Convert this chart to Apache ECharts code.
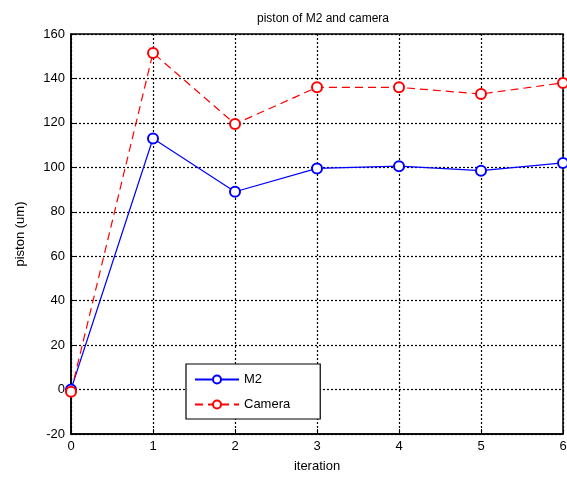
<!DOCTYPE html>
<html><head><meta charset="utf-8">
<script src="https://cdn.jsdelivr.net/npm/echarts@6/dist/echarts.min.js"></script>
<style>html,body{margin:0;padding:0;background:#fff}#c{width:567px;height:484px}</style>
</head><body><div id="c"></div>
<script>
const iterations = [0, 1, 2, 3, 4, 5, 6];
const m2 = [0, 113, 89, 99.5, 100.5, 98.5, 102];
const camera = [-1, 151.5, 119.5, 136, 136, 133, 138];
const yTicks = [-20, 160, 20];

const chart = echarts.init(document.getElementById('c'));
const font = 'Liberation Sans, Arial, sans-serif';
chart.setOption({
  animation: false,
  backgroundColor: '#fff',
  title: { text: 'piston of M2 and camera', left: 318, top: 8, textAlign: 'center',
    textStyle: { fontSize: 12, fontWeight: 'normal', color: '#000', fontFamily: font } },
  grid: { left: 71, right: 4, top: 34, bottom: 50, show: true, borderColor: '#000', borderWidth: 1.5,
    outerBoundsMode: 'none', containLabel: false },
  legend: {
    left: 186, top: 364, orient: 'vertical', itemWidth: 44, itemHeight: 10, itemGap: 12,
    backgroundColor: '#fff', borderColor: '#000', borderWidth: 1.2,
    padding: [9, 30, 8, 8],
    textStyle: { fontSize: 13, color: '#000', fontFamily: font },
    data: ['M2', 'Camera']
  },
  xAxis: {
    type: 'value', min: 0, max: 6, interval: 1,
    name: 'iteration', nameLocation: 'middle', nameGap: 26,
    nameTextStyle: { fontSize: 13, color: '#000', fontFamily: font },
    axisLine: { show: true, onZero: false, lineStyle: { color: '#000', width: 1.5 } },
    axisTick: { inside: true, length: 5, lineStyle: { color: '#000' } },
    axisLabel: { fontSize: 13, color: '#000', fontFamily: font, margin: 6 },
    splitLine: { show: true, lineStyle: { color: '#000', type: [2, 2], width: 1.2 } }
  },
  yAxis: {
    type: 'value', min: yTicks[0], max: yTicks[1], interval: yTicks[2],
    name: 'piston (um)', nameLocation: 'middle', nameGap: 44,
    nameTextStyle: { fontSize: 13, color: '#000', fontFamily: font },
    axisLine: { show: true, onZero: false, lineStyle: { color: '#000', width: 1.5 } },
    axisTick: { inside: true, length: 5, lineStyle: { color: '#000' } },
    axisLabel: { fontSize: 13, color: '#000', fontFamily: font, margin: 6 },
    splitLine: { show: true, lineStyle: { color: '#000', type: [2, 2], width: 1.2 } }
  },
  series: [
    { name: 'M2', type: 'line', data: iterations.map((x, i) => [x, m2[i]]),
      symbol: 'emptyCircle', symbolSize: 10, color: '#0000ff',
      lineStyle: { color: '#0000ff', width: 1.2 },
      itemStyle: { color: '#0000ff', borderColor: '#0000ff', borderWidth: 1 } },
    { name: 'Camera', type: 'line', data: iterations.map((x, i) => [x, camera[i]]),
      symbol: 'emptyCircle', symbolSize: 10, color: '#ff0000',
      lineStyle: { color: '#ff0000', width: 1.2, type: [8, 5] },
      itemStyle: { color: '#ff0000', borderColor: '#ff0000', borderWidth: 1 } }
  ]
});
</script></body></html>
